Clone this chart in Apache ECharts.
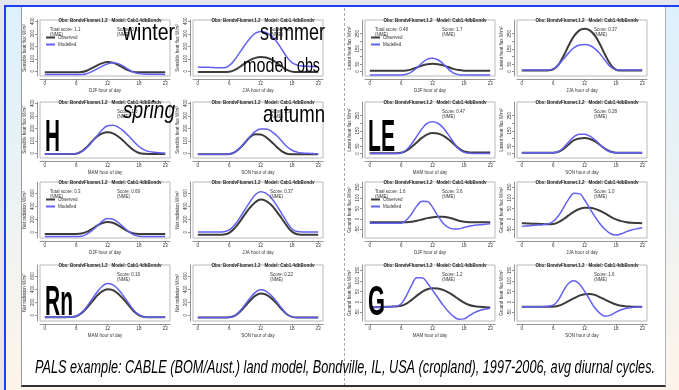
<!DOCTYPE html>
<html>
<head>
<meta charset="utf-8">
<script src="https://cdn.jsdelivr.net/npm/echarts@6/dist/echarts.min.js"></script>
<style>
body{margin:0;width:679px;height:390px;overflow:hidden;background:#e3e6ec;position:relative}
#frame{position:absolute;left:4px;top:5px;right:0;bottom:0;border-left:2px solid #1e3ef2;border-top:2px solid #1e3ef2;background:linear-gradient(#dcf0fc,#fdf4ea)}
#page{position:absolute;left:21px;top:7px;width:643px;height:378px;background:#fff;border-left:1px solid #9a9a9a;border-right:1px solid #b0b0b0;border-bottom:2px solid #333}
#container{position:absolute;left:0;top:0;width:679px;height:390px}
</style>
</head>
<body>
<div id="frame"></div>
<div id="page"></div>
<div id="container"></div>
<script type="text/javascript">
    var hours = [0,1,2,3,4,5,6,7,8,9,10,11,12,13,14,15,16,17,18,19,20,21,22,23];
    var seasons = ['DJF','JJA','MAM','SON'];
    var xTicks = [0,6,12,18,23];

    // sensible heat
    var hDJFobs = [-8,-8,-8,-8,-8,-8,-8,-6,5,25,48,66,75,70,52,28,8,-4,-7,-8,-8,-8,-8,-8];
    var hDJFmod = [-25,-25,-25,-25,-25,-25,-25,-25,-18,-2,20,42,60,68,62,42,15,-8,-18,-22,-23,-24,-24,-25];
    var hJJAobs = [-5,-5,-5,-5,-5,-6,-3,10,35,65,90,108,115,110,95,70,40,12,-2,-6,-6,-6,-5,-5];
    var hJJAmod = [35,33,32,30,28,28,45,90,150,210,265,305,318,310,285,240,180,115,70,50,42,40,38,37];
    var hMAMobs = [-5,-5,-5,-5,-5,-5,-3,15,50,95,135,160,168,160,135,100,60,25,3,-4,-5,-5,-5,-5];
    var hMAMmod = [-5,-5,-5,-5,-5,-5,-3,12,45,90,140,190,220,224,210,180,140,95,55,28,14,8,5,3];
    var hSONobs = [-8,-8,-8,-8,-8,-8,-6,8,40,85,130,152,150,130,95,55,18,-3,-7,-8,-8,-8,-8,-8];
    var hSONmod = [-8,-8,-8,-8,-8,-8,-6,8,42,88,135,175,195,195,178,145,100,55,25,10,3,0,-2,-4];
    // latent heat
    var leDJFobs = [5,5,5,5,5,5,5,7,15,27,40,48,51,49,42,30,18,10,6,5,5,5,5,5];
    var leDJFmod = [-22,-22,-22,-22,-22,-22,-22,-18,-2,25,58,82,88,78,52,18,-10,-20,-22,-22,-22,-22,-22,-22];
    var leJJAobs = [7,7,7,7,7,8,15,45,105,175,235,272,283,272,235,175,105,45,12,7,7,7,7,7];
    var leJJAmod = [10,10,10,10,10,10,18,45,85,125,158,175,178,172,150,115,70,30,12,10,10,10,10,10];
    var leMAMobs = [3,3,3,3,3,3,6,20,45,75,105,127,136,132,118,95,65,35,14,8,7,7,7,7];
    var leMAMmod = [0,0,0,0,0,0,4,25,65,115,165,200,210,200,170,125,75,30,8,2,1,0,0,0];
    var leSONobs = [5,5,5,5,5,5,6,12,32,62,88,100,102,96,80,55,30,12,6,5,5,5,5,5];
    var leSONmod = [5,5,5,5,5,5,6,14,40,78,112,128,127,115,90,58,28,10,5,5,5,5,5,5];
    // net radiation
    var rnDJFobs = [-25,-25,-25,-25,-25,-25,-25,-20,5,50,100,140,157,145,105,55,10,-18,-25,-25,-25,-25,-25,-25];
    var rnDJFmod = [-64,-64,-64,-64,-64,-64,-64,-60,-30,25,95,170,210,200,150,80,15,-40,-60,-64,-64,-64,-64,-64];
    var rnJJAobs = [-39,-39,-39,-39,-39,-36,-10,60,160,275,380,460,500,480,420,325,215,100,10,-30,-38,-39,-39,-39];
    var rnJJAmod = [5,5,5,5,5,8,35,110,220,345,470,575,622,600,530,420,290,160,50,10,5,5,5,5];
    var rnMAMobs = [-30,-30,-30,-30,-30,-28,-15,30,110,205,300,370,400,385,330,250,155,60,0,-25,-30,-30,-30,-30];
    var rnMAMmod = [-30,-30,-30,-30,-30,-28,-12,40,130,245,355,445,485,465,400,300,185,75,5,-25,-30,-30,-30,-30];
    var rnSONobs = [-35,-35,-35,-35,-35,-35,-32,-10,50,135,225,300,335,318,265,185,95,15,-25,-35,-35,-35,-35,-35];
    var rnSONmod = [-35,-35,-35,-35,-35,-35,-32,-8,60,160,265,350,390,370,305,215,110,20,-25,-35,-35,-35,-35,-35];
    // ground heat
    var gDJFobs = [-15,-15,-15,-15,-15,-15,-15,-15,-13,-8,-2,4,8,11,11,7,0,-8,-13,-15,-15,-15,-15,-15];
    var gDJFmod = [-20,-20,-20,-20,-20,-20,-20,-5,25,62,84,83,55,15,-20,-40,-48,-47,-40,-34,-30,-27,-25,-23];
    var gJJAobs = [-20,-21,-22,-23,-24,-25,-24,-15,0,18,35,47,53,53,48,38,25,10,-2,-10,-15,-18,-19,-20];
    var gJJAmod = [-35,-33,-31,-29,-27,-23,-12,15,55,95,122,120,90,50,10,-25,-52,-70,-76,-70,-60,-52,-46,-41];
    var gMAMobs = [-26,-25,-24,-23,-22,-21,-18,-8,10,30,48,60,65,64,57,45,30,12,-3,-14,-20,-23,-25,-26];
    var gMAMmod = [-26,-25,-24,-23,-22,-20,-8,30,80,115,115,90,55,20,-15,-45,-68,-82,-80,-65,-50,-40,-34,-30];
    var gSONobs = [-23,-23,-23,-23,-23,-23,-22,-18,-8,5,18,30,37,38,33,22,10,-2,-12,-18,-21,-22,-23,-23];
    var gSONmod = [-23,-23,-23,-23,-22,-20,-15,10,55,90,100,85,50,10,-30,-55,-67,-62,-48,-37,-30,-26,-24,-23];

    var scoresH = ['0.81','4.6','1.6','1.3'];
    var scoresLE = ['1.7','0.37','0.47','0.28'];
    var scoresRn = ['0.69','0.37','0.19','0.22'];
    var scoresG = ['3.6','1.0','1.2','1.6'];
    var totalScores = ['1.1','0.48','0.3','1.6'];

    var vars = [
        {name:'Sensible heat flux W/m²', min:-37, max:410, ticks:[0,100,200,300,400], labels:[0,100,200,300,400],
            obs:[hDJFobs,hJJAobs,hMAMobs,hSONobs], mod:[hDJFmod,hJJAmod,hMAMmod,hSONmod], scores:scoresH},
        {name:'Latent heat flux W/m²', min:-29, max:340, ticks:[0,50,100,150,200,250], labels:[0,50,150,250],
            obs:[leDJFobs,leJJAobs,leMAMobs,leSONobs], mod:[leDJFmod,leJJAmod,leMAMmod,leSONmod], scores:scoresLE},
        {name:'Net radiation W/m²', min:-88, max:770, ticks:[0,200,400,600], labels:[0,200,400,600],
            obs:[rnDJFobs,rnJJAobs,rnMAMobs,rnSONobs], mod:[rnDJFmod,rnJJAmod,rnMAMmod,rnSONmod], scores:scoresRn},
        {name:'Ground heat flux W/m²', min:-90, max:175, ticks:[-50,0,50,100,150], labels:[-50,0,50,100,150],
            obs:[gDJFobs,gJJAobs,gMAMobs,gSONobs], mod:[gDJFmod,gJJAmod,gMAMmod,gSONmod], scores:scoresG}
    ];

    var colX = [40,193,365,517];
    var rowY = [20,102,182,265];
    var boxW = 130, boxH = 56;
    var tiny = 4.5;
    var txt = '#333';

    var grids = [], xAxes = [], yAxes = [], series = [], titles = [], legends = [];
    var idx = 0;
    vars.forEach(function (v, vi) {
        seasons.forEach(function (s, si) {
            var c = (vi % 2) * 2 + (si % 2);
            var r = Math.floor(vi / 2) * 2 + Math.floor(si / 2);
            var L = colX[c], T = rowY[r];
            grids.push({left:L, top:T, width:boxW, height:boxH, show:true, borderColor:'#b8b8b8', borderWidth:1});
            xAxes.push({
                gridIndex:idx, type:'value', min:-0.92, max:23.92, offset:3,
                axisLine:{show:true, onZero:false, lineStyle:{color:'#777', width:0.8}},
                axisTick:{show:true, length:2, customValues:xTicks, lineStyle:{color:'#777', width:0.8}},
                axisLabel:{customValues:xTicks, fontSize:tiny, margin:2, color:txt},
                splitLine:{show:false},
                name:s + ' hour of day', nameLocation:'middle', nameGap:9,
                nameTextStyle:{fontSize:tiny, color:txt}
            });
            yAxes.push({
                gridIndex:idx, type:'value', min:v.min, max:v.max, offset:3,
                axisLine:{show:true, onZero:false, lineStyle:{color:'#777', width:0.8}},
                axisTick:{show:true, length:2, customValues:v.ticks, lineStyle:{color:'#777', width:0.8}},
                axisLabel:{customValues:v.labels, fontSize:tiny, margin:2, rotate:90, color:txt},
                splitLine:{show:false},
                name:v.name, nameLocation:'middle', nameGap:10,
                nameTextStyle:{fontSize:tiny, color:txt}
            });
            series.push({
                name:'Observed', type:'line', xAxisIndex:idx, yAxisIndex:idx, smooth:0.4, showSymbol:false,
                data:hours.map(function (h, k) { return [h, v.obs[si][k]]; }),
                lineStyle:{color:'#3c3c3c', width:2}, itemStyle:{color:'#3c3c3c'}, silent:true
            });
            series.push({
                name:'Modelled', type:'line', xAxisIndex:idx, yAxisIndex:idx, smooth:0.4, showSymbol:false,
                data:hours.map(function (h, k) { return [h, v.mod[si][k]]; }),
                lineStyle:{color:'#6060f4', width:1.5}, itemStyle:{color:'#6060f4'}, silent:true
            });
            titles.push({
                text:'Obs: BondvFluxnet.1.2   Model: Cab1.4dbBondv', left:L + boxW / 2, top:T - 7, textAlign:'center',
                textStyle:{fontSize:tiny, fontWeight:'bold', color:'#222'}
            });
            titles.push({
                text:'Score: ' + v.scores[si] + '\n(NME)', left:L + 72, top:T + 2,
                textStyle:{fontSize:tiny, fontWeight:'normal', color:txt, lineHeight:5}
            });
            if (si === 0) {
                titles.push({
                    text:'Total score: ' + totalScores[vi] + '\n(NME)', left:L + 5, top:T + 2,
                    textStyle:{fontSize:tiny, fontWeight:'normal', color:txt, lineHeight:5}
                });
                legends.push({
                    data:['Observed','Modelled'], left:L + 6, top:T + 15, orient:'vertical', icon:'rect',
                    itemWidth:9, itemHeight:2, itemGap:2, selectedMode:false, padding:0,
                    textStyle:{fontSize:tiny, color:txt, padding:[0,0,0,-2]}
                });
            }
            idx++;
        });
    });

    // stretch overlay words to the widths they take on the slide
    var mctx = document.createElement('canvas').getContext('2d');
    function word(t, x, y, size, w, style) {
        var font = (style || '') + ' ' + size + 'px "Liberation Sans", Arial, sans-serif';
        mctx.font = font;
        var sx = w / mctx.measureText(t).width;
        return {
            type:'text', x:x, y:y, scaleX:sx, z:100,
            style:{text:t, fill:'#000', font:font, textVerticalAlign:'middle', verticalAlign:'middle'}
        };
    }

    var dom = document.getElementById('container');
    var myChart = echarts.init(dom);
    var option = {
        animation:false,
        title:titles,
        legend:legends,
        grid:grids,
        xAxis:xAxes,
        yAxis:yAxes,
        series:series,
        graphic:[
            {type:'line', shape:{x1:344.5, y1:8, x2:344.5, y2:385}, style:{stroke:'#aaa', lineWidth:1, lineDash:[3,2]}, z:1},
            word('winter', 123, 33, 24, 52),
            word('summer', 260, 33, 24, 65),
            word('model', 243, 66, 20, 44),
            word('obs', 297, 66, 20, 23),
            word('spring', 123, 111, 24, 52, 'italic'),
            word('autumn', 263, 115, 24, 62),
            word('H', 45, 139, 44, 15, 'bold'),
            word('LE', 368, 139, 44, 27, 'bold'),
            word('Rn', 45, 303, 43, 28, 'bold'),
            word('G', 368, 303, 43, 17, 'bold'),
            word('PALS example: CABLE (BOM/Aust.) land model, Bondville, IL, USA (cropland), 1997-2006, avg diurnal cycles.',
                35, 368, 18, 620, 'italic')
        ]
    };
    myChart.setOption(option, true);
</script>
</body>
</html>
